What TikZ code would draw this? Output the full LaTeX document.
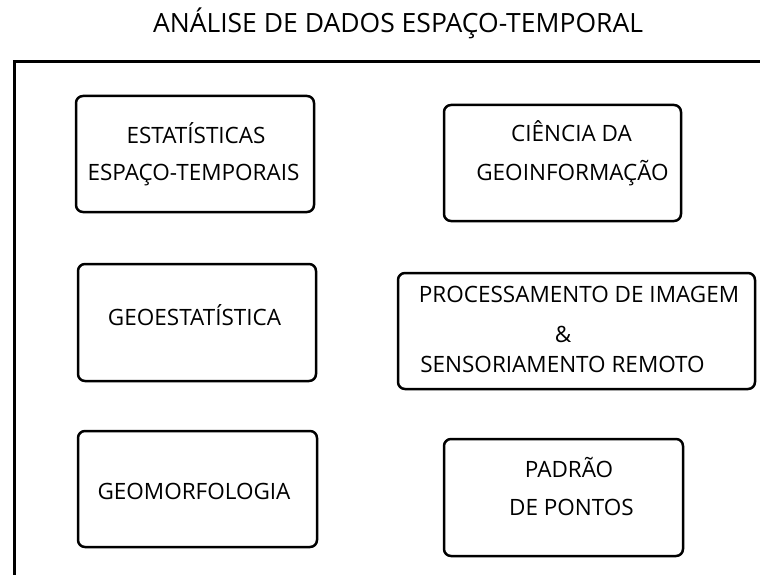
\documentclass[tikz,border=0pt]{standalone}
\usepackage{fontspec}
\setmainfont{Open Sans}

\begin{document}
\begin{tikzpicture}[x=1pt, y=-1pt,
        box/.style={draw, line width=2.5pt, rounded corners=7pt, inner sep=0pt},
        lbl/.style={anchor=base, inner sep=0pt, font=\fontsize{22.5}{26}\selectfont}]
        \useasboundingbox (0, 0) rectangle (760, 575);

        \node[anchor=base, inner sep=0pt, font=\fontsize{26.5}{30}\selectfont] (title) at (398, 33) {ANÁLISE DE DADOS ESPAÇO-TEMPORAL};
        \draw[line width=3pt] (14, 580) -- (14, 62) -- (765, 62);

        \node[box, minimum width=238pt, minimum height=116pt] (estat)   at (195, 154)   {};
        \node[box, minimum width=237pt, minimum height=116pt] (geoinf)  at (562.5, 163) {};
        \node[box, minimum width=238pt, minimum height=117pt] (geoest)  at (197, 322.5) {};
        \node[box, minimum width=357pt, minimum height=116pt] (proc)    at (576.5, 331) {};
        \node[box, minimum width=239pt, minimum height=116pt] (geomorf) at (197.5, 489) {};
        \node[box, minimum width=239pt, minimum height=117pt] (padrao)  at (563.5, 497.5) {};

        \node[lbl] (estat1)   at (196, 143)   {ESTATÍSTICAS};
        \node[lbl] (estat2)   at (193.5, 180) {ESPAÇO-TEMPORAIS};
        \node[lbl] (geoinf1)  at (571.5, 142) {CIÊNCIA DA};
        \node[lbl] (geoinf2)  at (572.5, 180) {GEOINFORMAÇÃO};
        \node[lbl] (geoest1)  at (194.5, 325) {GEOESTATÍSTICA};
        \node[lbl] (proc1)    at (579, 302)   {PROCESSAMENTO DE IMAGEM};
        \node[lbl] (proc2)    at (563, 342)   {\&};
        \node[lbl] (proc3)    at (562.5, 372) {SENSORIAMENTO REMOTO};
        \node[lbl] (geomorf1) at (194, 499)   {GEOMORFOLOGIA};
        \node[lbl] (padrao1)  at (569, 477)   {PADRÃO};
        \node[lbl] (padrao2)  at (571.5, 515) {DE PONTOS};
    \end{tikzpicture}
\end{document}
